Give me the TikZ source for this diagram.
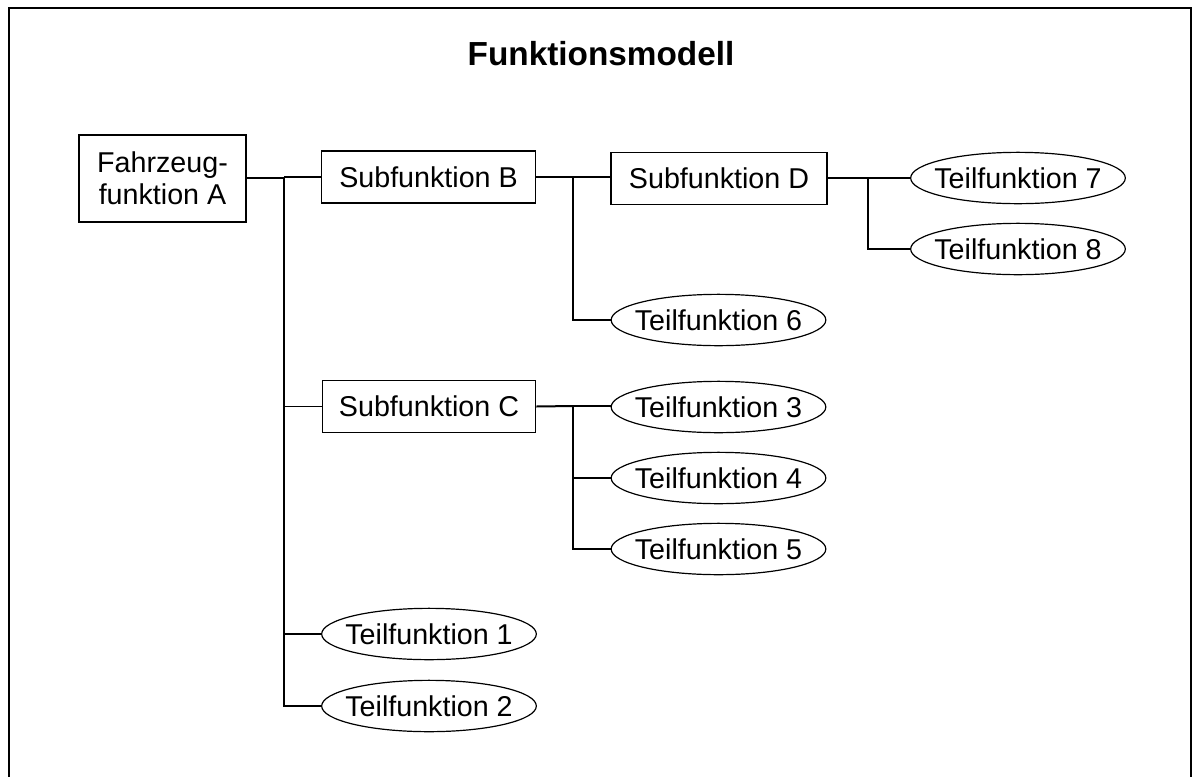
\documentclass[tikz,border=0pt]{standalone}
\usepackage{fontspec}
\setmainfont{Liberation Sans}
\usetikzlibrary{shapes.geometric}
\begin{document}
\begin{tikzpicture}[x=0.75pt,y=-0.75pt,
  every node/.style={font=\fontsize{21.5}{24}\selectfont},
  funcbox/.style={draw,line width=0.9pt,rectangle,inner sep=0pt,align=center},
  subbox/.style={funcbox,minimum width=160pt,minimum height=39pt},
  leaf/.style={draw,line width=0.9pt,ellipse,inner sep=0pt,minimum width=161pt,minimum height=38.5pt},
  branch/.style={line width=0.95pt},
  stub/.style={line width=1.5pt}]
  % canvas and outer frame (open towards the bottom)
  \useasboundingbox (0,0) rectangle (1193,776);
  \begin{scope}
    \clip (0,0) rectangle (1193,776);
    \draw[line width=1.5pt] (9,820) -- (9,8) -- (1191,8) -- (1191,820);
  \end{scope}

  \node[font=\bfseries\fontsize{25}{28}\selectfont] (title) at (601,54) {Funktionsmodell};

  % function boxes
  \node[funcbox,minimum width=125.25pt,minimum height=65.25pt] (A) at (162.5,178.5) {Fahrzeug-\\funktion A};
  \node[subbox] (B) at (428.5,177) {Subfunktion B};
  \node[subbox] (C) at (429,406.5) {Subfunktion C};
  \node[subbox,minimum width=162pt] (D) at (719,178.5) {Subfunktion D};

  % partial functions
  \node[leaf] (T7) at (1018,178) {\makebox[0pt]{Teilfunktion 7}};
  \node[leaf] (T8) at (1018,249) {\makebox[0pt]{Teilfunktion 8}};
  \node[leaf] (T6) at (718.5,320) {\makebox[0pt]{Teilfunktion 6}};
  \node[leaf] (T3) at (718.5,407) {\makebox[0pt]{Teilfunktion 3}};
  \node[leaf] (T4) at (718.5,478) {\makebox[0pt]{Teilfunktion 4}};
  \node[leaf] (T5) at (718.5,549) {\makebox[0pt]{Teilfunktion 5}};
  \node[leaf] (T1) at (429,634) {\makebox[0pt]{Teilfunktion 1}};
  \node[leaf] (T2) at (429,706) {\makebox[0pt]{Teilfunktion 2}};

  % junction columns
  \coordinate (jA) at (284,178);
  \coordinate (jB) at (573,177);
  \coordinate (jC) at (573,406);
  \coordinate (jD) at (868,178);

  % A -> B, C, T1, T2
  \draw[stub] (A.east |- jA) -- (jA);
  \draw[branch] (jA) -- (jA |- T2.west) -- (T2.west);
  \draw[branch] (jA |- B.west) -- (B.west);
  \draw[branch] (jA |- C.west) -- (C.west);
  \draw[branch] (jA |- T1.west) -- (T1.west);

  % B -> D, T6
  \draw[stub] (B.east) -- (jB);
  \draw[branch] (jB) -- (D.west |- jB);
  \draw[branch] (jB) -- (jB |- T6.west) -- (T6.west);

  % C -> T3, T4, T5
  \draw[stub] (C.east) -- (jC);
  \draw[branch] (jC) -- (T3.west |- jC);
  \draw[branch] (jC) -- (jC |- T5.west) -- (T5.west);
  \draw[branch] (jC |- T4.west) -- (T4.west);

  % D -> T7, T8
  \draw[stub] (D.east |- jD) -- (jD);
  \draw[branch] (jD) -- (T7.west);
  \draw[branch] (jD) -- (jD |- T8.west) -- (T8.west);
\end{tikzpicture}
\end{document}
